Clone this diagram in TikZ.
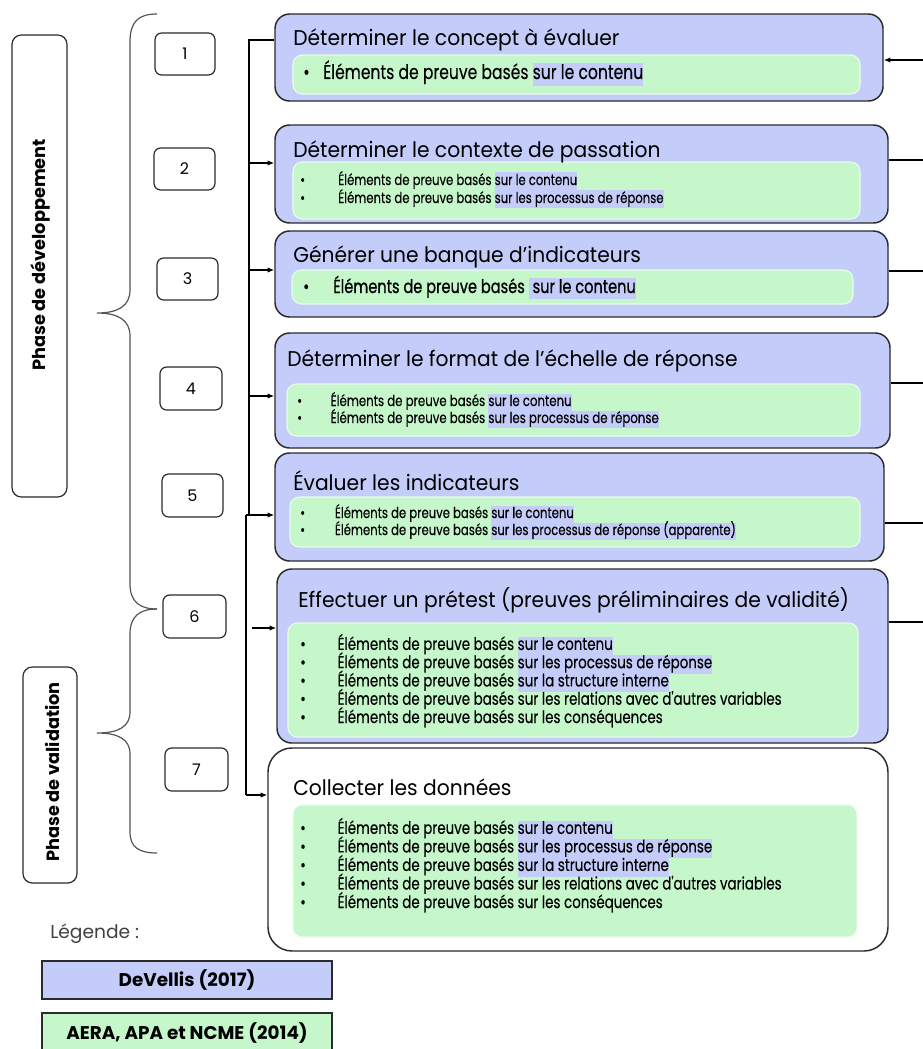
\documentclass[tikz,border=0pt]{standalone}
\usepackage{fontspec}
\setmainfont{Poppins}
\newfontfamily\titlef[FakeStretch=0.95]{Poppins}
\newfontfamily\condf[FakeStretch=0.78,FakeBold=0.25]{Poppins}
\newfontfamily\condbf[FakeStretch=0.78,FakeBold=0.8]{Poppins}
\usetikzlibrary{fit,arrows.meta}
\definecolor{devblue}{HTML}{C4CDFA}
\definecolor{aeragreen}{HTML}{C6F7CB}
\definecolor{edge}{HTML}{2B2B2B}
\newsavebox\hlbox
\newcommand\hl[1]{\sbox\hlbox{#1}{\color{devblue}\rule[-0.3\baselineskip]{\wd\hlbox}{\baselineskip}}\hspace{-\wd\hlbox}\usebox\hlbox}
\newcommand\bul[2]{\makebox[#1][l]{\textbullet}#2}
\newcommand\EB{Éléments de preuve basés}
\tikzset{
  mainbox/.style={draw=edge, line width=1.1pt, rounded corners=11pt, fill=devblue, inner sep=0pt},
  greenbox/.style={draw=white!60!aeragreen, line width=0.8pt, rounded corners=7pt, fill=aeragreen, inner sep=0pt},
  numbox/.style={draw=edge, line width=0.9pt, rounded corners=5pt, inner sep=0pt},
  phasebox/.style={draw=edge, line width=0.9pt, rounded corners=7pt, inner sep=0pt},
  legbox/.style={draw=edge, line width=0.9pt, inner sep=0pt},
  titletext/.style={anchor=base west, inner sep=0pt, font=\titlef\fontsize{16}{18}\selectfont},
  itemtext/.style={anchor=base west, inner sep=0pt, align=left, execute at begin node={\lineskiplimit=-100pt\lineskip=0pt}},
  numtext/.style={inner sep=0pt, font=\fontsize{12}{14}\selectfont},
  phasetext/.style={rotate=90, inner sep=0pt, font=\bfseries\fontsize{13.3}{15}\selectfont},
  legtext/.style={inner sep=0pt, font=\bfseries\fontsize{13.8}{15}\selectfont},
  brace/.style={draw=edge!80, line width=0.9pt},
  conn/.style={draw=black, line width=0.9pt},
  arr/.style={conn, -{Latex[length=5pt,width=4pt]}},
}
\begin{document}
\begin{tikzpicture}[x=0.75pt,y=-0.75pt]
\useasboundingbox (0,0) rectangle (923,1049);
\fill[white] (0,0) rectangle (923,1049);

% phase boxes
\node[phasebox, fit={(12,35) (67,497)}] (pdev) {};
\node[phasetext] (pdevt) at (40,255) {Phase de développement};
\node[phasebox, fit={(23,667) (77,883)}] (pval) {};
\node[phasetext] (pvalt) at (52,772) {Phase de validation};

% braces
\draw[brace] (157,14) .. controls (138,14) and (130,22) .. (130,42) -- (130,290)
  .. controls (130,306) and (118,313) .. (97,313)
  .. controls (118,313) and (130,320) .. (130,336) -- (130,584)
  .. controls (130,602) and (140,609) .. (157,609);
\draw[brace] (157,609) .. controls (140,609) and (130,616) .. (130,634) -- (130,712)
  .. controls (130,727) and (118,733) .. (97,733)
  .. controls (118,733) and (130,739) .. (130,754) -- (130,832)
  .. controls (130,848) and (140,853) .. (157,853);

% number boxes
\node[numbox, fit={(155,33) (215,75)}] (n1) {};
\node[numtext] (n1t) at (n1.center) {1};
\node[numbox, fit={(154,148) (215,190)}] (n2) {};
\node[numtext] (n2t) at (n2.center) {2};
\node[numbox, fit={(157,258) (218,300)}] (n3) {};
\node[numtext] (n3t) at (n3.center) {3};
\node[numbox, fit={(160,367) (222,410)}] (n4) {};
\node[numtext] (n4t) at (n4.center) {4};
\node[numbox, fit={(162,474) (223,517)}] (n5) {};
\node[numtext] (n5t) at (n5.center) {5};
\node[numbox, fit={(163,595) (226,638)}] (n6) {};
\node[numtext] (n6t) at (n6.center) {6};
\node[numbox, fit={(165,748) (228,791)}] (n7) {};
\node[numtext] (n7t) at (n7.center) {7};

% main boxes
\node[mainbox, fit={(275,14) (883,101)}] (b1) {};
\node[mainbox, fit={(275,125) (888,223)}] (b2) {};
\node[mainbox, fit={(275,231) (888,317)}] (b3) {};
\node[mainbox, fit={(275,333) (890,448)}] (b4) {};
\node[mainbox, fit={(275,453) (884,561)}] (b5) {};
\node[mainbox, fit={(277,569) (888,743)}] (b6) {};
\node[mainbox, fill=white, rounded corners=18pt, fit={(268,748) (888,951)}] (b7) {};

\node[greenbox, fit={(293,55) (860,94)}] (g1) {};
\node[greenbox, fit={(293,162) (860,219)}] (g2) {};
\node[greenbox, fit={(292,270) (853,304)}] (g3) {};
\node[greenbox, fit={(287,384) (860,436)}] (g4) {};
\node[greenbox, fit={(290,497) (860,547)}] (g5) {};
\node[greenbox, fit={(288,623) (858,737)}] (g6) {};
\node[greenbox, fit={(293,805) (857,937)}] (g7) {};

% titles
\node[titletext] (t1) at (293,46) {Déterminer le concept à évaluer};
\node[titletext] (t2) at (293,157) {Déterminer le contexte de passation};
\node[titletext] (t3) at (293,262) {Générer une banque d’indicateurs};
\node[titletext] (t4) at (287,366) {Déterminer le format de l’échelle de réponse};
\node[titletext] (t5) at (293,490) {Évaluer les indicateurs};
\node[titletext] (t6) at (298,607) {Effectuer un prétest (preuves préliminaires de validité)};
\node[titletext] (t7) at (293,795) {Collecter les données};

% items (anchor = baseline of the last line)
\node[itemtext, font=\condf\fontsize{15}{17}\selectfont] (i1) at (303,79)
  {\bul{15pt}{\EB\ \hl{sur le contenu}}};
\node[itemtext, font=\condf\fontsize{11.2}{13.5}\selectfont] (i2) at (300,203)
  {\bul{28.5pt}{\EB\ \hl{sur le contenu}}\\
   \bul{28.5pt}{\EB\ \hl{sur les processus de réponse}}};
\node[itemtext, font=\condbf\fontsize{14}{16}\selectfont] (i3) at (303,293)
  {\bul{22.5pt}{\EB\ \hl{\ sur le contenu}}};
\node[itemtext, font=\condf\fontsize{11.3}{12.75}\selectfont] (i4) at (297,423)
  {\bul{25pt}{\EB\ \hl{sur le contenu}}\\
   \bul{25pt}{\EB\ \hl{sur les processus de réponse}}};
\node[itemtext, font=\condf\fontsize{11.2}{12.75}\selectfont] (i5) at (300,535)
  {\bul{26pt}{\EB\ \hl{sur le contenu}}\\
   \bul{26pt}{\EB\ \hl{sur les processus de réponse (apparente)}}};
\node[itemtext, font=\condf\fontsize{12.9}{13.7}\selectfont] (i6) at (300,723)
  {\bul{28pt}{\EB\ \hl{sur le contenu}}\\
   \bul{28pt}{\EB\ \hl{sur les processus de réponse}}\\
   \bul{28pt}{\EB\ \hl{sur la structure interne}}\\
   \bul{28pt}{\EB\ sur les relations avec d'autres variables}\\
   \bul{28pt}{\EB\ sur les conséquences}};
\node[itemtext, font=\condf\fontsize{12.9}{13.9}\selectfont] (i7) at (300,908)
  {\bul{28pt}{\EB\ \hl{sur le contenu}}\\
   \bul{28pt}{\EB\ \hl{sur les processus de réponse}}\\
   \bul{28pt}{\EB\ \hl{sur la structure interne}}\\
   \bul{28pt}{\EB\ sur les relations avec d'autres variables}\\
   \bul{28pt}{\EB\ sur les conséquences}};

% left connectors
\coordinate (s1) at (249,40);
\coordinate (s2) at (249,163);
\coordinate (s3) at (249,270);
\coordinate (s4) at (249,396);
\coordinate (s5) at (249,515);
\coordinate (u5) at (246,515);
\coordinate (s6) at (252,628);
\coordinate (s7) at (246,795);
\draw[conn] (s5) -- (s1) -- (b1.west |- s1);
\draw[arr] (s2) -- (b2.west |- s2);
\draw[arr] (s3) -- (b3.west |- s3);
\draw[arr] (s4) -- (b4.west |- s4);
\draw[arr] (s5) -- (b5.west |- s5);
\draw[arr] (s6) -- (b6.west |- s6);
\draw[conn] (u5) -- (s5);
\draw[conn] (u5) -- (s7);
\draw[arr] (s7) -- (b7.west |- s7);

% right connectors
\coordinate (e1) at (923,60);
\coordinate (e2) at (923,160);
\coordinate (e3) at (923,271);
\coordinate (e4) at (923,383);
\coordinate (e5) at (923,523);
\coordinate (e6) at (923,622);
\draw[arr] (e1) -- (b1.east |- e1);
\draw[conn] (b2.east |- e2) -- (e2);
\draw[conn] (b3.east |- e3) -- (e3);
\draw[conn] (b4.east |- e4) -- (e4);
\draw[conn] (b5.east |- e5) -- (e5);
\draw[conn] (b6.east |- e6) -- (e6);

% legend
\node[anchor=base west, inner sep=0pt, text=edge!90, font=\fontsize{14}{16}\selectfont] (leg) at (50,938) {Légende :};
\node[legbox, fill=devblue, fit={(42,961) (332,999)}] (l1) {};
\node[legtext] (l1t) at (l1.center) {DeVellis (2017)};
\node[legbox, fill=aeragreen, fit={(42,1013) (332,1055)}] (l2) {};
\node[legtext] (l2t) at (187,1033) {AERA, APA et NCME (2014)};
\end{tikzpicture}
\end{document}
